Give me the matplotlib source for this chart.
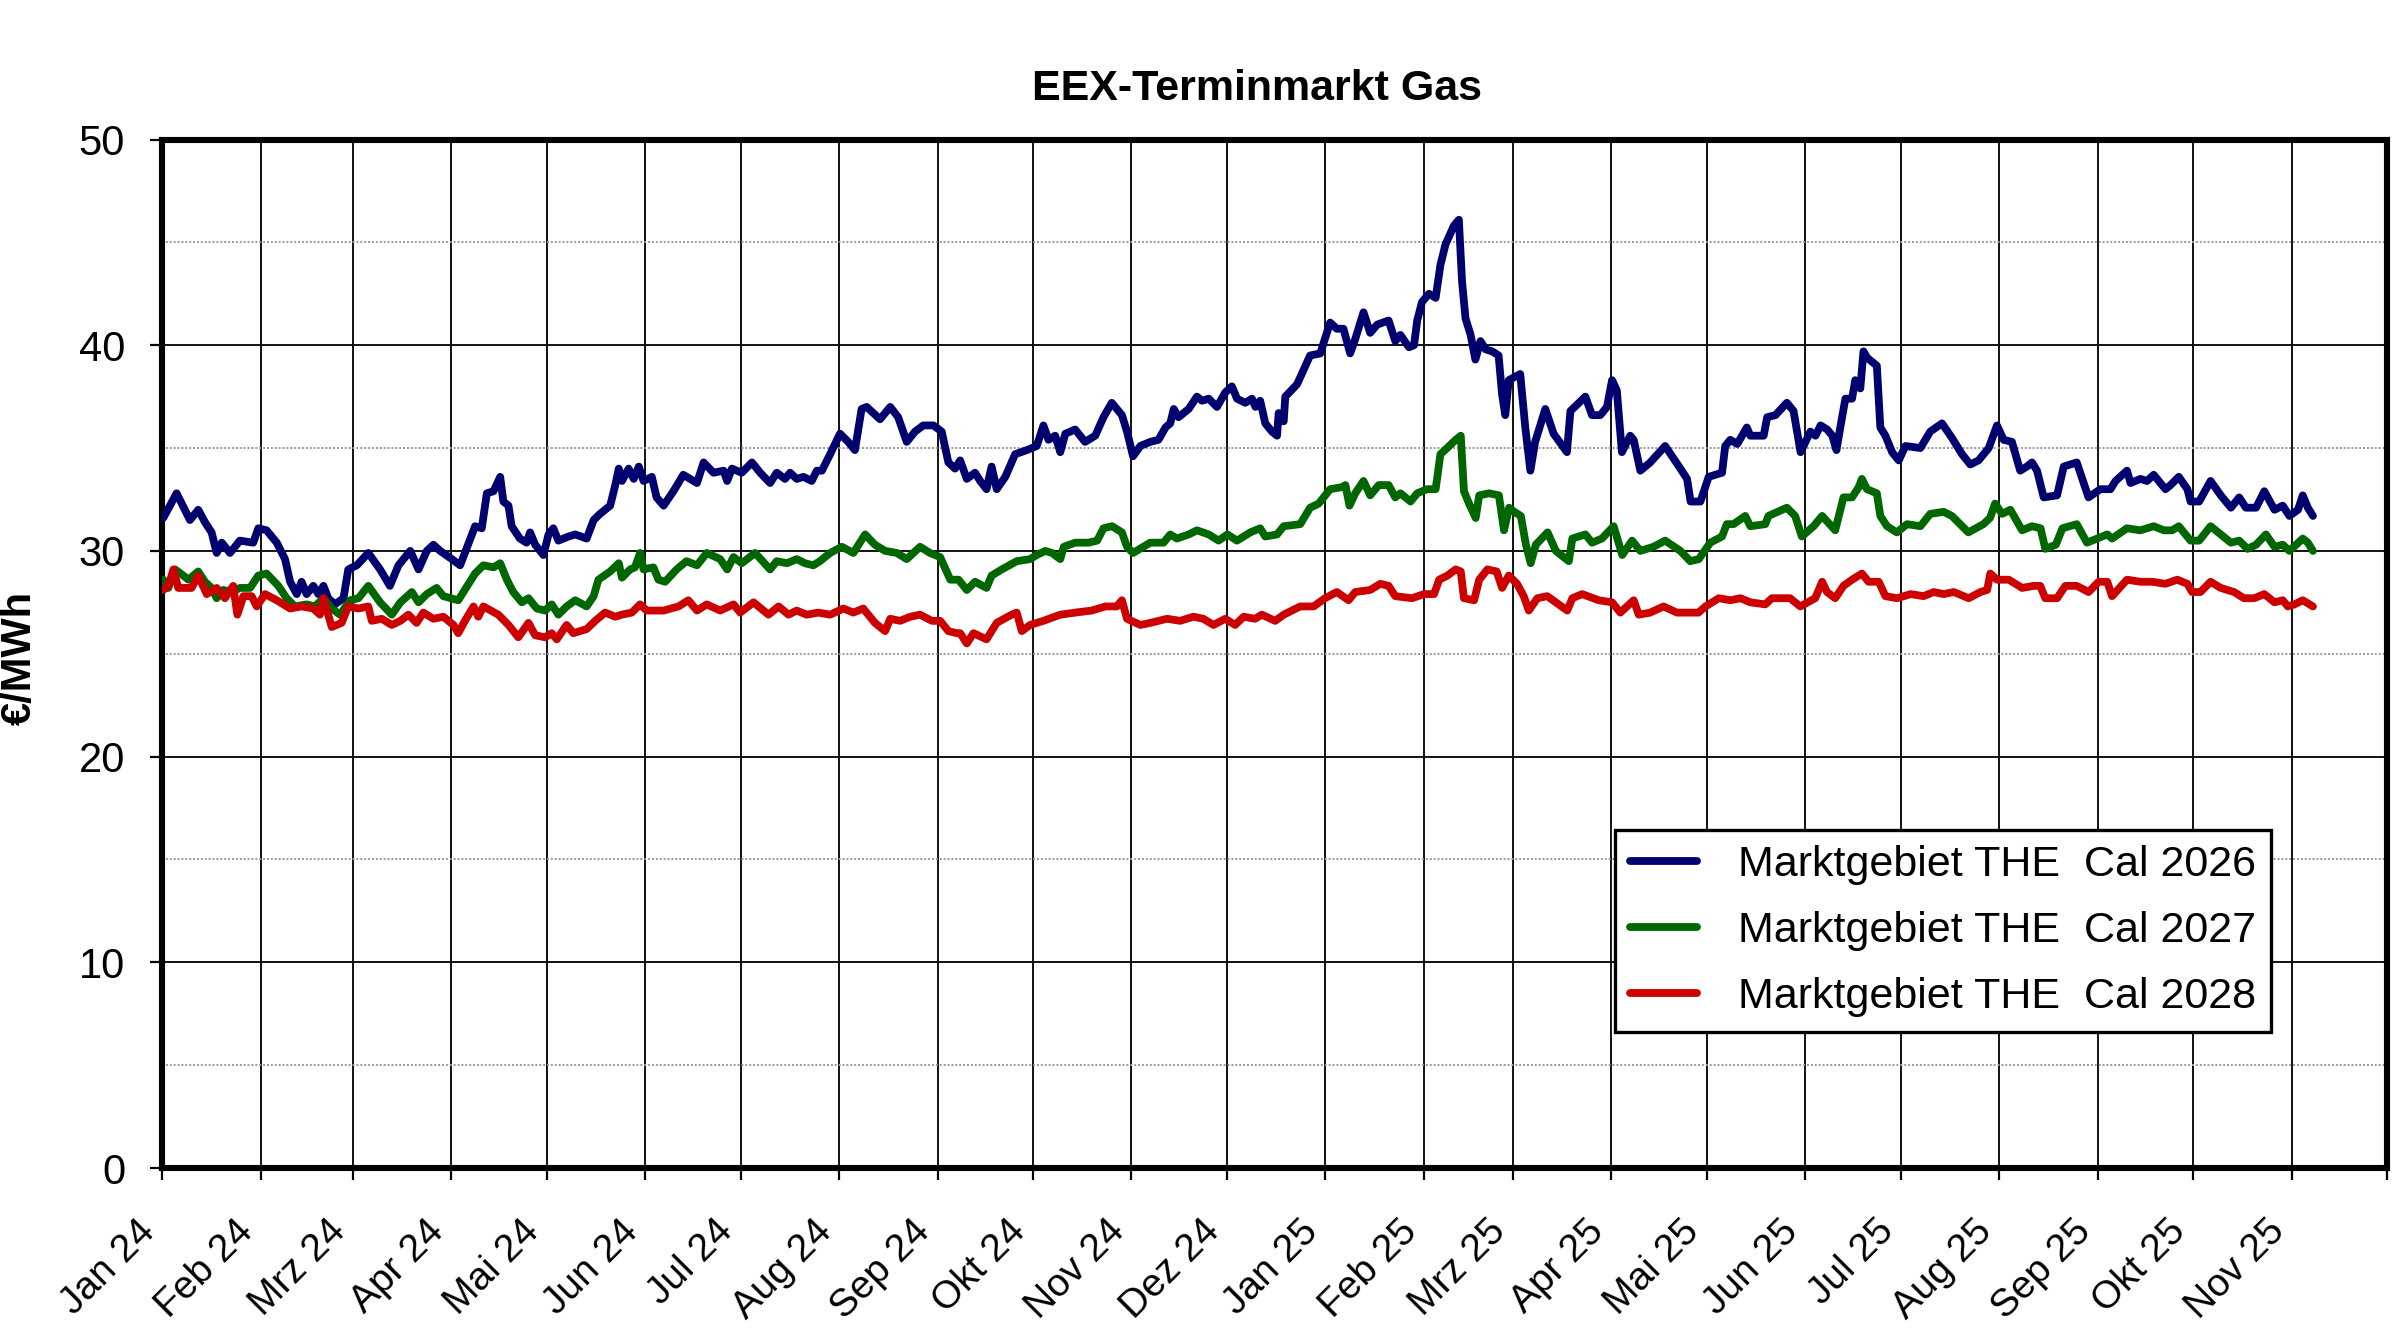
import datetime as dt
import numpy as np
import matplotlib
matplotlib.use("Agg")
import matplotlib.pyplot as plt
import matplotlib.dates as mdates
import matplotlib.transforms as mtransforms
from matplotlib.ticker import MultipleLocator

plt.rcParams['font.family'] = ['Liberation Sans', 'DejaVu Sans']

# ---------------- data (days since 2024-01-01, €/MWh) ----------------
days_2026 = [0.4, 4.6, 8.8, 11.4, 13.5, 15.6, 17.2, 18.8, 21.4, 24.5, 28.7, 30.3, 32.9, 36.1, 38.7, 40.3, 42.4, 43.9, 45.5, 47.6,
             49.2, 50.8, 52.3, 54.4, 57.1, 58.6, 61.3, 64.9, 68.6, 71.7, 74.4, 78.1, 80.7, 83.3, 85.4, 87.5, 91.2, 93.8, 98.5, 100.6,
             102.2, 104.3, 106.4, 107.4, 109.0, 110.0, 112.6, 114.7, 115.8, 117.4, 120.0, 121.6, 123.1, 124.7, 127.9,
             130.0, 133.6, 135.8, 137.8, 141.0, 142.6, 143.7, 144.7, 146.8, 148.4, 150.0, 151.5, 154.1, 155.6, 157.8, 160.9,
             164.0, 168.3, 170.4, 173.5, 176.7, 177.8, 179.3, 182.4, 185.6, 188.2, 191.3, 193.4, 196.0, 197.6, 199.7, 201.8, 204.4,
             206.0, 207.6, 210.2, 213.3, 215.9, 218.0, 220.1, 221.7, 225.9, 229.1, 231.6, 234.3, 236.9, 239.5, 242.7, 245.3, 247.4,
             249.5, 251.1, 253.2,
             255.8, 257.4, 259.4, 261.0, 262.6, 265.3, 268.4, 272.1, 275.2, 277.3, 278.9, 281.0, 282.6, 284.2, 287.3, 290.4, 293.6,
             296.2, 298.8, 302.0, 303.6, 305.5, 307.8, 310.9, 313.5, 315.7, 317.2, 318.3, 319.8, 323.0, 325.6, 327.2, 329.3, 331.9,
             334.5, 336.6, 338.2, 340.8, 342.9, 344.0, 345.5, 347.1, 349.2, 350.8, 351.3, 352.9, 353.4, 357.1,
             361.2, 364.4, 367.5, 369.6, 371.7, 373.8, 375.4, 378.0, 380.1, 382.3, 385.9, 388.0, 389.6, 392.3, 393.9, 394.9, 396.4,
             398.6, 400.7, 402.2, 403.8, 406.4, 408.0, 409.0, 410.1, 411.7, 413.2, 414.8, 416.4, 418.5, 420.5, 421.6, 422.6, 423.7,
             427.3, 428.9, 430.5, 432.0, 435.2, 437.8, 442.0, 443.1, 447.8, 449.9, 452.5, 454.6, 456.2, 457.7, 459.3, 461.9, 463.0,
             465.1, 468.2, 472.9, 477.7, 479.8, 480.9, 484.0,
             486.6, 490.8, 491.8, 493.4, 495.6, 498.6, 499.7, 503.9, 505.0, 507.6, 511.2, 513.3, 515.5, 518.6, 520.2, 521.8, 523.9,
             525.5, 526.8, 528.0, 529.6, 531.7, 532.7, 534.3, 535.3, 536.4, 539.5, 540.6, 542.2, 544.3, 546.4, 548.5, 553.2, 556.3,
             560.0, 563.1, 566.3, 568.9, 571.5, 574.7, 577.3,
             579.4, 582.0, 584.6, 586.7, 588.3, 589.9, 592.0, 596.2, 598.3, 602.4, 606.1, 609.8, 613.0, 614.6, 618.2, 619.3, 622.4,
             624.5, 626.6, 630.3, 631.9, 634.5, 637.2, 638.2, 640.9, 644.5, 647.7, 650.9, 653.5, 655.6, 658.8, 661.4, 664.6, 667.2,
             669.3, 672.0, 673.5, 675.1, 676.7]
cal_2026 = [31.6, 32.8, 31.5, 32.0, 31.4, 30.9, 29.9, 30.4, 29.9, 30.5, 30.4, 31.1, 31.0, 30.4, 29.6, 28.5, 27.9, 28.5, 27.9, 28.3,
            27.9, 28.3, 27.7, 27.4, 27.7, 29.1, 29.3, 29.9, 29.1, 28.3, 29.3, 30.0, 29.1, 30.0, 30.3, 30.0, 29.6, 29.3, 31.2, 31.1,
            32.8, 32.9, 33.6, 32.4, 32.2, 31.2, 30.6, 30.4, 30.9, 30.3, 29.8, 30.8, 31.1, 30.5, 30.7,
            30.8, 30.6, 31.5, 31.8, 32.2, 33.2, 34.0, 33.4, 34.0, 33.5, 34.1, 33.4, 33.6, 32.6, 32.2, 32.9,
            33.7, 33.3, 34.3, 33.8, 33.9, 33.4, 34.0, 33.8, 34.3, 33.8, 33.3, 33.8, 33.5, 33.8, 33.5, 33.6, 33.4,
            33.9, 33.9, 34.7, 35.7, 35.3, 34.9, 36.9, 37.0, 36.4, 37.0, 36.5, 35.3, 35.8, 36.1, 36.1, 35.8, 34.3,
            34.0, 34.4, 33.5,
            33.8, 33.4, 33.0, 34.1, 33.0, 33.6, 34.7, 34.9, 35.1, 36.1, 35.4, 35.6, 34.8, 35.7, 35.9, 35.3, 35.6,
            36.5, 37.2, 36.6, 35.8, 34.6, 35.1, 35.3, 35.4, 36.0, 36.2, 36.9, 36.5, 36.9, 37.5, 37.3, 37.4, 37.0,
            37.7, 38.0, 37.4, 37.2, 37.4, 37.0, 37.3, 36.2, 35.8, 35.6, 36.7, 36.3, 37.5, 38.1,
            39.5, 39.6, 41.1, 40.8, 40.8, 39.6, 40.3, 41.6, 40.6, 41.0, 41.2, 40.2, 40.5, 39.9, 40.0, 41.2, 42.1,
            42.5, 42.3, 43.9, 44.9, 45.8, 46.1, 43.1, 41.3, 40.5, 39.3, 40.2, 39.8, 39.7, 39.5, 37.6, 36.6, 38.3,
            38.6, 36.0, 33.9, 35.3, 36.9, 35.7, 34.8, 36.8, 37.5, 36.6, 36.6, 37.0, 38.3, 37.8, 34.8, 35.6, 35.4,
            33.9, 34.3, 35.1, 34.0, 33.5, 32.4, 32.4,
            33.6, 33.8, 35.1, 35.4, 35.2, 36.0, 35.6, 35.6, 36.5, 36.6, 37.2, 36.8, 34.8, 35.8, 35.6, 36.1, 35.9,
            35.6, 34.9, 36.0, 37.4, 37.4, 38.3, 37.9, 39.7, 39.4, 39.0, 36.0, 35.6, 34.8, 34.4, 35.1, 35.0, 35.8,
            36.2, 35.5, 34.7, 34.2, 34.4, 35.0, 36.1,
            35.4, 35.3, 33.9, 34.1, 34.3, 33.9, 32.6, 32.7, 34.1, 34.3, 32.6, 33.0, 33.0, 33.4, 33.9, 33.3, 33.5,
            33.4, 33.7, 33.0, 33.2, 33.6, 33.0, 32.4, 32.4, 33.4, 32.7, 32.1, 32.6, 32.1, 32.1, 32.9, 32.0, 32.2,
            31.7, 32.0, 32.7, 32.1, 31.7]

days_2027 = [0.4, 2.0, 4.1, 6.7, 8.3, 11.4, 13.5, 15.6, 17.2, 19.3, 21.9, 24.5, 27.7, 30.3, 32.9, 36.6, 39.2, 41.8, 45.5, 48.1,
             50.8, 53.4, 56.0, 59.2, 61.8, 64.9, 68.6, 72.3, 75.0, 78.6, 80.7, 83.3, 86.4, 88.5, 93.2, 98.5, 101.1, 104.3, 106.4,
             108.5, 110.5, 113.2, 115.3, 117.9, 120.5,
             122.6, 124.7, 127.3, 130.0, 133.6, 135.8, 137.3, 141.0, 143.7, 144.7, 147.3, 148.8, 150.4, 151.5, 154.6, 156.2, 158.3,
             161.9, 165.0, 168.3, 171.4, 175.6, 177.8, 179.8, 182.4, 186.6, 191.3, 193.4, 196.6, 199.7, 202.3, 204.9, 207.0, 210.2,
             213.9, 217.5, 221.2, 224.3, 227.5, 231.2, 234.3, 238.5, 241.6, 244.8, 248.0, 250.6,
             253.2, 255.8, 259.4, 261.0, 264.2, 268.9, 273.1, 275.2, 277.9, 280.0, 282.6, 283.7, 287.3, 291.5, 294.2, 296.2, 298.9,
             302.0, 303.6, 305.5, 310.9, 315.1, 317.2, 319.3, 323.0, 325.6, 329.3, 332.4, 335.2, 338.2, 342.4, 345.5, 347.1, 350.8,
             352.9,
             358.1, 361.2, 363.9, 367.5, 371.2, 372.3, 373.6, 375.4, 378.0, 380.1, 382.8, 385.9, 388.0, 389.6, 392.8, 394.9, 398.0,
             400.7, 402.2, 404.3, 407.0, 408.6, 409.6, 411.2, 413.3, 414.4, 417.5, 420.6, 422.2, 423.8, 425.4, 427.5, 429.1, 430.6,
             432.2, 435.9, 438.5, 442.6, 443.7, 447.8, 449.9, 453.0, 456.7, 459.4, 462.5, 465.1, 469.2, 472.9, 477.7, 480.8, 483.5,
             487.1, 490.8, 492.3, 494.4, 498.1, 499.7, 504.4, 505.4, 511.2, 513.8, 515.9, 519.6, 522.3, 526.4, 529.0, 531.7, 533.8,
             534.8, 536.4, 539.5, 540.6, 542.7, 545.8, 549.0, 553.2, 556.3, 560.5, 563.1, 568.3, 573.0, 575.1, 576.7, 578.9, 581.5,
             585.2, 588.3, 591.0, 592.5, 595.8, 597.9, 602.4, 605.6, 608.8, 612.0, 613.5, 618.2, 622.4, 626.6, 629.8, 632.4, 634.5,
             638.2, 640.9, 644.5, 647.7, 650.9, 653.5, 656.1, 658.8, 661.9, 664.6, 667.2, 669.3, 671.4, 673.5, 675.1, 676.7]
cal_2027 = [28.6, 28.2, 29.1, 28.8, 28.6, 29.0, 28.5, 28.2, 27.7, 28.1, 28.0, 28.2, 28.2, 28.8, 28.9, 28.3, 27.7, 27.3, 27.4, 27.3,
            27.7, 27.2, 26.9, 27.6, 27.7, 28.3, 27.5, 26.9, 27.5, 28.0, 27.5, 27.9, 28.2, 27.8, 27.6, 28.9, 29.3, 29.2, 29.4,
            28.6, 28.0, 27.5, 27.7, 27.2, 27.1,
            27.4, 26.9, 27.3, 27.6, 27.3, 27.8, 28.6, 29.0, 29.4, 28.7, 29.1, 29.2, 29.9, 29.1, 29.2, 28.6, 28.5,
            29.1, 29.5, 29.3, 29.9, 29.6, 29.1, 29.7, 29.4, 29.9, 29.1, 29.5, 29.4, 29.6, 29.4, 29.3, 29.5, 29.9,
            30.2, 29.9, 30.8, 30.3, 30.0, 29.9, 29.6, 30.2, 29.9, 29.7, 28.6, 28.6,
            28.1, 28.5, 28.2, 28.8, 29.1, 29.5, 29.6, 29.8, 30.0, 29.9, 29.6, 30.2, 30.4, 30.4, 30.5, 31.1, 31.2,
            30.9, 30.2, 29.9, 30.4, 30.4, 30.8, 30.6, 30.8, 31.0, 30.8, 30.5, 30.8, 30.5, 30.9, 31.1, 30.7, 30.8,
            31.2,
            31.3, 32.1, 32.3, 33.0, 33.1, 33.2, 32.2, 32.8, 33.4, 32.7, 33.2, 33.2, 32.6, 32.8, 32.4, 32.8, 33.0,
            33.0, 34.7, 35.0, 35.4, 35.6, 32.9, 32.3, 31.6, 32.7, 32.8, 32.7, 31.0, 32.1, 31.9, 31.7, 30.3, 29.4,
            30.3, 30.9, 30.0, 29.5, 30.6, 30.8, 30.4, 30.6, 31.2, 29.8, 30.5, 30.0, 30.2, 30.5, 30.0, 29.5, 29.6,
            30.4, 30.7, 31.3, 31.3, 31.7, 31.2, 31.3, 31.7, 32.1, 31.7, 30.7, 31.2, 31.7, 31.0, 32.6, 32.6, 33.1,
            33.5, 33.0, 32.8, 31.7, 31.2, 30.9, 31.3, 31.2, 31.8, 31.9, 31.7, 30.9, 31.3, 31.6, 32.3, 31.8, 32.0,
            31.0, 31.2, 31.1, 30.1, 30.3, 31.1, 31.3, 30.4, 30.6, 30.8, 30.6, 31.1, 31.0, 31.2, 31.0, 31.0, 31.2,
            30.5, 30.5, 31.2, 30.8, 30.4, 30.5, 30.1, 30.3, 30.8, 30.2, 30.3, 30.0, 30.3, 30.6, 30.4, 30.0]

days_2028 = [0.4, 2.0, 3.6, 5.1, 9.3, 11.4, 14.1, 17.2, 19.8, 22.4, 23.7, 25.6, 28.2, 29.8, 32.4, 36.1, 40.3, 43.9, 47.6, 49.7,
             50.8, 53.4, 56.5, 58.6, 61.8, 64.9, 66.0, 69.1, 72.3, 75.0, 77.5, 80.1, 82.2, 85.4, 88.5, 91.7, 93.2, 95.3, 98.0,
             99.5, 101.1, 105.8, 109.0, 112.1, 115.3, 117.4, 120.5,
             122.6, 124.2, 127.3, 129.4, 133.6, 136.3, 139.4, 142.6, 144.7, 147.8, 150.4, 152.5, 157.8, 162.5, 165.6, 168.3, 171.4,
             175.6, 179.8, 181.9, 186.1, 190.8, 194.0, 197.1, 199.7, 202.8, 206.5, 210.2, 214.4, 217.5, 220.6, 224.3, 227.5, 229.1,
             232.2, 235.4, 238.5, 242.2, 244.8, 247.4, 250.0,
             251.1, 253.2, 255.3, 259.4, 262.6, 267.3, 268.9, 270.5, 273.1, 277.3, 282.6, 287.3, 292.5, 296.8, 300.4, 302.0, 303.6,
             307.8, 310.9, 316.2, 320.3, 324.5, 327.6, 330.8, 334.5, 337.6, 340.3, 343.9, 346.0, 350.2, 352.9,
             358.1, 362.3, 365.9, 369.6, 373.3, 375.4, 380.1, 383.3, 385.9, 388.0, 393.3, 397.0, 400.2, 401.8, 404.4, 407.0, 408.6,
             409.6, 412.8, 414.4, 417.0, 419.9, 421.6, 423.7, 426.3, 428.4, 430.0, 432.7, 435.8, 442.1, 443.7, 446.8, 452.0, 456.2,
             458.8, 463.0, 464.6, 468.2, 472.4, 476.6, 483.4,
             485.6, 489.8, 493.4, 496.6, 499.7, 504.4, 506.5, 512.2, 515.4, 520.1, 522.3, 523.8, 526.4, 529.0, 531.7, 534.8, 536.9,
             540.1, 542.2, 545.9, 550.1, 554.2, 557.4, 560.5, 563.7, 568.4, 572.1, 574.2, 575.2, 577.3, 581.0,
             585.2, 588.8, 590.9, 592.5, 596.2, 598.8, 602.4, 606.1, 609.3, 612.0, 613.5, 618.2, 622.4, 626.1, 630.3, 634.0, 637.2,
             638.7, 641.3, 644.5, 647.7, 651.9, 655.0, 658.2, 661.4, 664.6, 667.2, 668.8, 670.9, 673.5, 676.7]
cal_2028 = [28.1, 28.3, 29.1, 28.2, 28.2, 28.8, 27.9, 28.2, 27.7, 28.3, 26.9, 27.8, 27.8, 27.3, 27.9, 27.6, 27.2, 27.3, 27.2, 26.9,
            27.7, 26.3, 26.5, 27.3, 27.2, 27.3, 26.6, 26.7, 26.4, 26.6, 26.9, 26.5, 27.0, 26.7, 26.8, 26.4, 26.0, 26.6, 27.3,
            26.8, 27.3, 26.9, 26.4, 25.8, 26.5, 25.9, 25.8,
            26.0, 25.7, 26.4, 26.0, 26.2, 26.6, 27.0, 26.8, 26.9, 27.0, 27.4, 27.1, 27.1, 27.3, 27.6, 27.1, 27.4,
            27.1, 27.4, 27.0, 27.5, 26.9, 27.3, 26.9, 27.1, 26.9, 27.0, 26.9, 27.2, 27.0, 27.2, 26.5, 26.1, 26.7,
            26.6, 26.8, 26.9, 26.6, 26.6, 26.1, 26.0,
            26.0, 25.5, 26.0, 25.7, 26.5, 26.9, 27.0, 26.1, 26.4, 26.6, 26.9, 27.0, 27.1, 27.3, 27.3, 27.6, 26.7,
            26.4, 26.5, 26.7, 26.6, 26.8, 26.7, 26.4, 26.7, 26.4, 26.8, 26.7, 26.9, 26.6, 26.9,
            27.3, 27.3, 27.7, 28.0, 27.6, 28.0, 28.1, 28.4, 28.3, 27.8, 27.7, 27.9, 27.9, 28.6, 28.8, 29.1, 29.0,
            27.7, 27.6, 28.6, 29.1, 29.0, 28.2, 28.8, 28.4, 27.8, 27.1, 27.7, 27.8, 27.1, 27.7, 27.9, 27.6, 27.5,
            27.0, 27.6, 26.9, 27.0, 27.3, 27.0, 27.0,
            27.3, 27.7, 27.6, 27.7, 27.5, 27.4, 27.7, 27.7, 27.3, 27.7, 28.5, 28.0, 27.7, 28.3, 28.6, 28.9, 28.5,
            28.5, 27.8, 27.7, 27.9, 27.8, 28.0, 27.9, 28.0, 27.7, 28.0, 28.1, 28.9, 28.6, 28.6,
            28.2, 28.3, 28.3, 27.7, 27.7, 28.3, 28.3, 28.0, 28.5, 28.5, 27.8, 28.6, 28.5, 28.5, 28.4, 28.6, 28.4,
            28.0, 28.0, 28.5, 28.2, 28.0, 27.7, 27.7, 27.9, 27.5, 27.6, 27.3, 27.4, 27.6, 27.3]

series_labels = ["Marktgebiet THE  Cal 2026", "Marktgebiet THE  Cal 2027", "Marktgebiet THE  Cal 2028"]
series_colors = ["#00006e", "#006600", "#cc0000"]
month_names = ["Jan", "Feb", "Mrz", "Apr", "Mai", "Jun", "Jul", "Aug", "Sep", "Okt", "Nov", "Dez"]
title_text = "EEX-Terminmarkt Gas"
ylabel_text = "€/MWh"

# ---------------- figure ----------------
fig = plt.figure(figsize=(12, 6.695), dpi=200)
ax = fig.add_axes([162 / 2400, 1 - 1168 / 1339, 2225 / 2400, (1168 - 139.5) / 1339])

base = mdates.date2num(dt.date(2024, 1, 1))
for days, vals, lab, col in zip([days_2026, days_2027, days_2028],
                                [cal_2026, cal_2027, cal_2028],
                                series_labels, series_colors):
    ax.plot(base + np.asarray(days), vals, color=col, lw=2.8, label=lab,
            solid_joinstyle='round', solid_capstyle='round', zorder=3)

# month ticks
tick_dates = []
tick_labels = []
for y in (2024, 2025):
    for m in range(1, 13):
        tick_dates.append(mdates.date2num(dt.date(y, m, 1)))
        tick_labels.append(f"{month_names[m - 1]} {str(y)[2:]}")
tick_labels[-1] = ""

ax.set_xlim(mdates.date2num(dt.date(2024, 1, 1)), mdates.date2num(dt.date(2025, 12, 1)))
ax.set_xticks(tick_dates)
ax.set_xticklabels(tick_labels, rotation=45, ha='right', rotation_mode='default', fontsize=14)
shift = mtransforms.ScaledTranslation(14 / 200, 0, fig.dpi_scale_trans)
for lbl in ax.get_xticklabels():
    lbl.set_transform(lbl.get_transform() + shift)

ax.set_ylim(0, 50)
ax.yaxis.set_major_locator(MultipleLocator(10))
ax.yaxis.set_minor_locator(MultipleLocator(5))
ax.tick_params(axis='y', which='major', labelsize=15, length=4.3, width=0.8, pad=9, direction='out')
ax.tick_params(axis='y', which='minor', length=0)
ax.tick_params(axis='x', which='major', length=4.3, width=0.8, pad=12, direction='out')

ax.grid(True, which='major', axis='both', color='#111111', lw=0.7, zorder=1)
ax.grid(True, which='minor', axis='y', color='#999999', lw=0.7, linestyle=(0, (1, 1)), zorder=1)
ax.set_axisbelow(True)

for sp in ax.spines.values():
    sp.set_linewidth(2.2)
    sp.set_color('black')

fig.text(1257 / 2400, 1 - 89 / 1339, title_text, ha='center', va='center',
         fontsize=15.5, fontweight='bold')
fig.text(20 / 2400, 1 - 658 / 1339, ylabel_text, ha='center', va='center',
         rotation=90, fontsize=15, fontweight='bold')

leg = ax.legend(loc='upper right', bbox_to_anchor=(0.948, 0.3286), borderaxespad=0,
                fontsize=15.5, frameon=True, fancybox=False, framealpha=1,
                edgecolor='black', handlelength=1.55, handletextpad=0.95,
                labelspacing=0.6, borderpad=0.35)
leg.get_frame().set_linewidth(1.2)

fig.savefig("out.png", dpi=200)
